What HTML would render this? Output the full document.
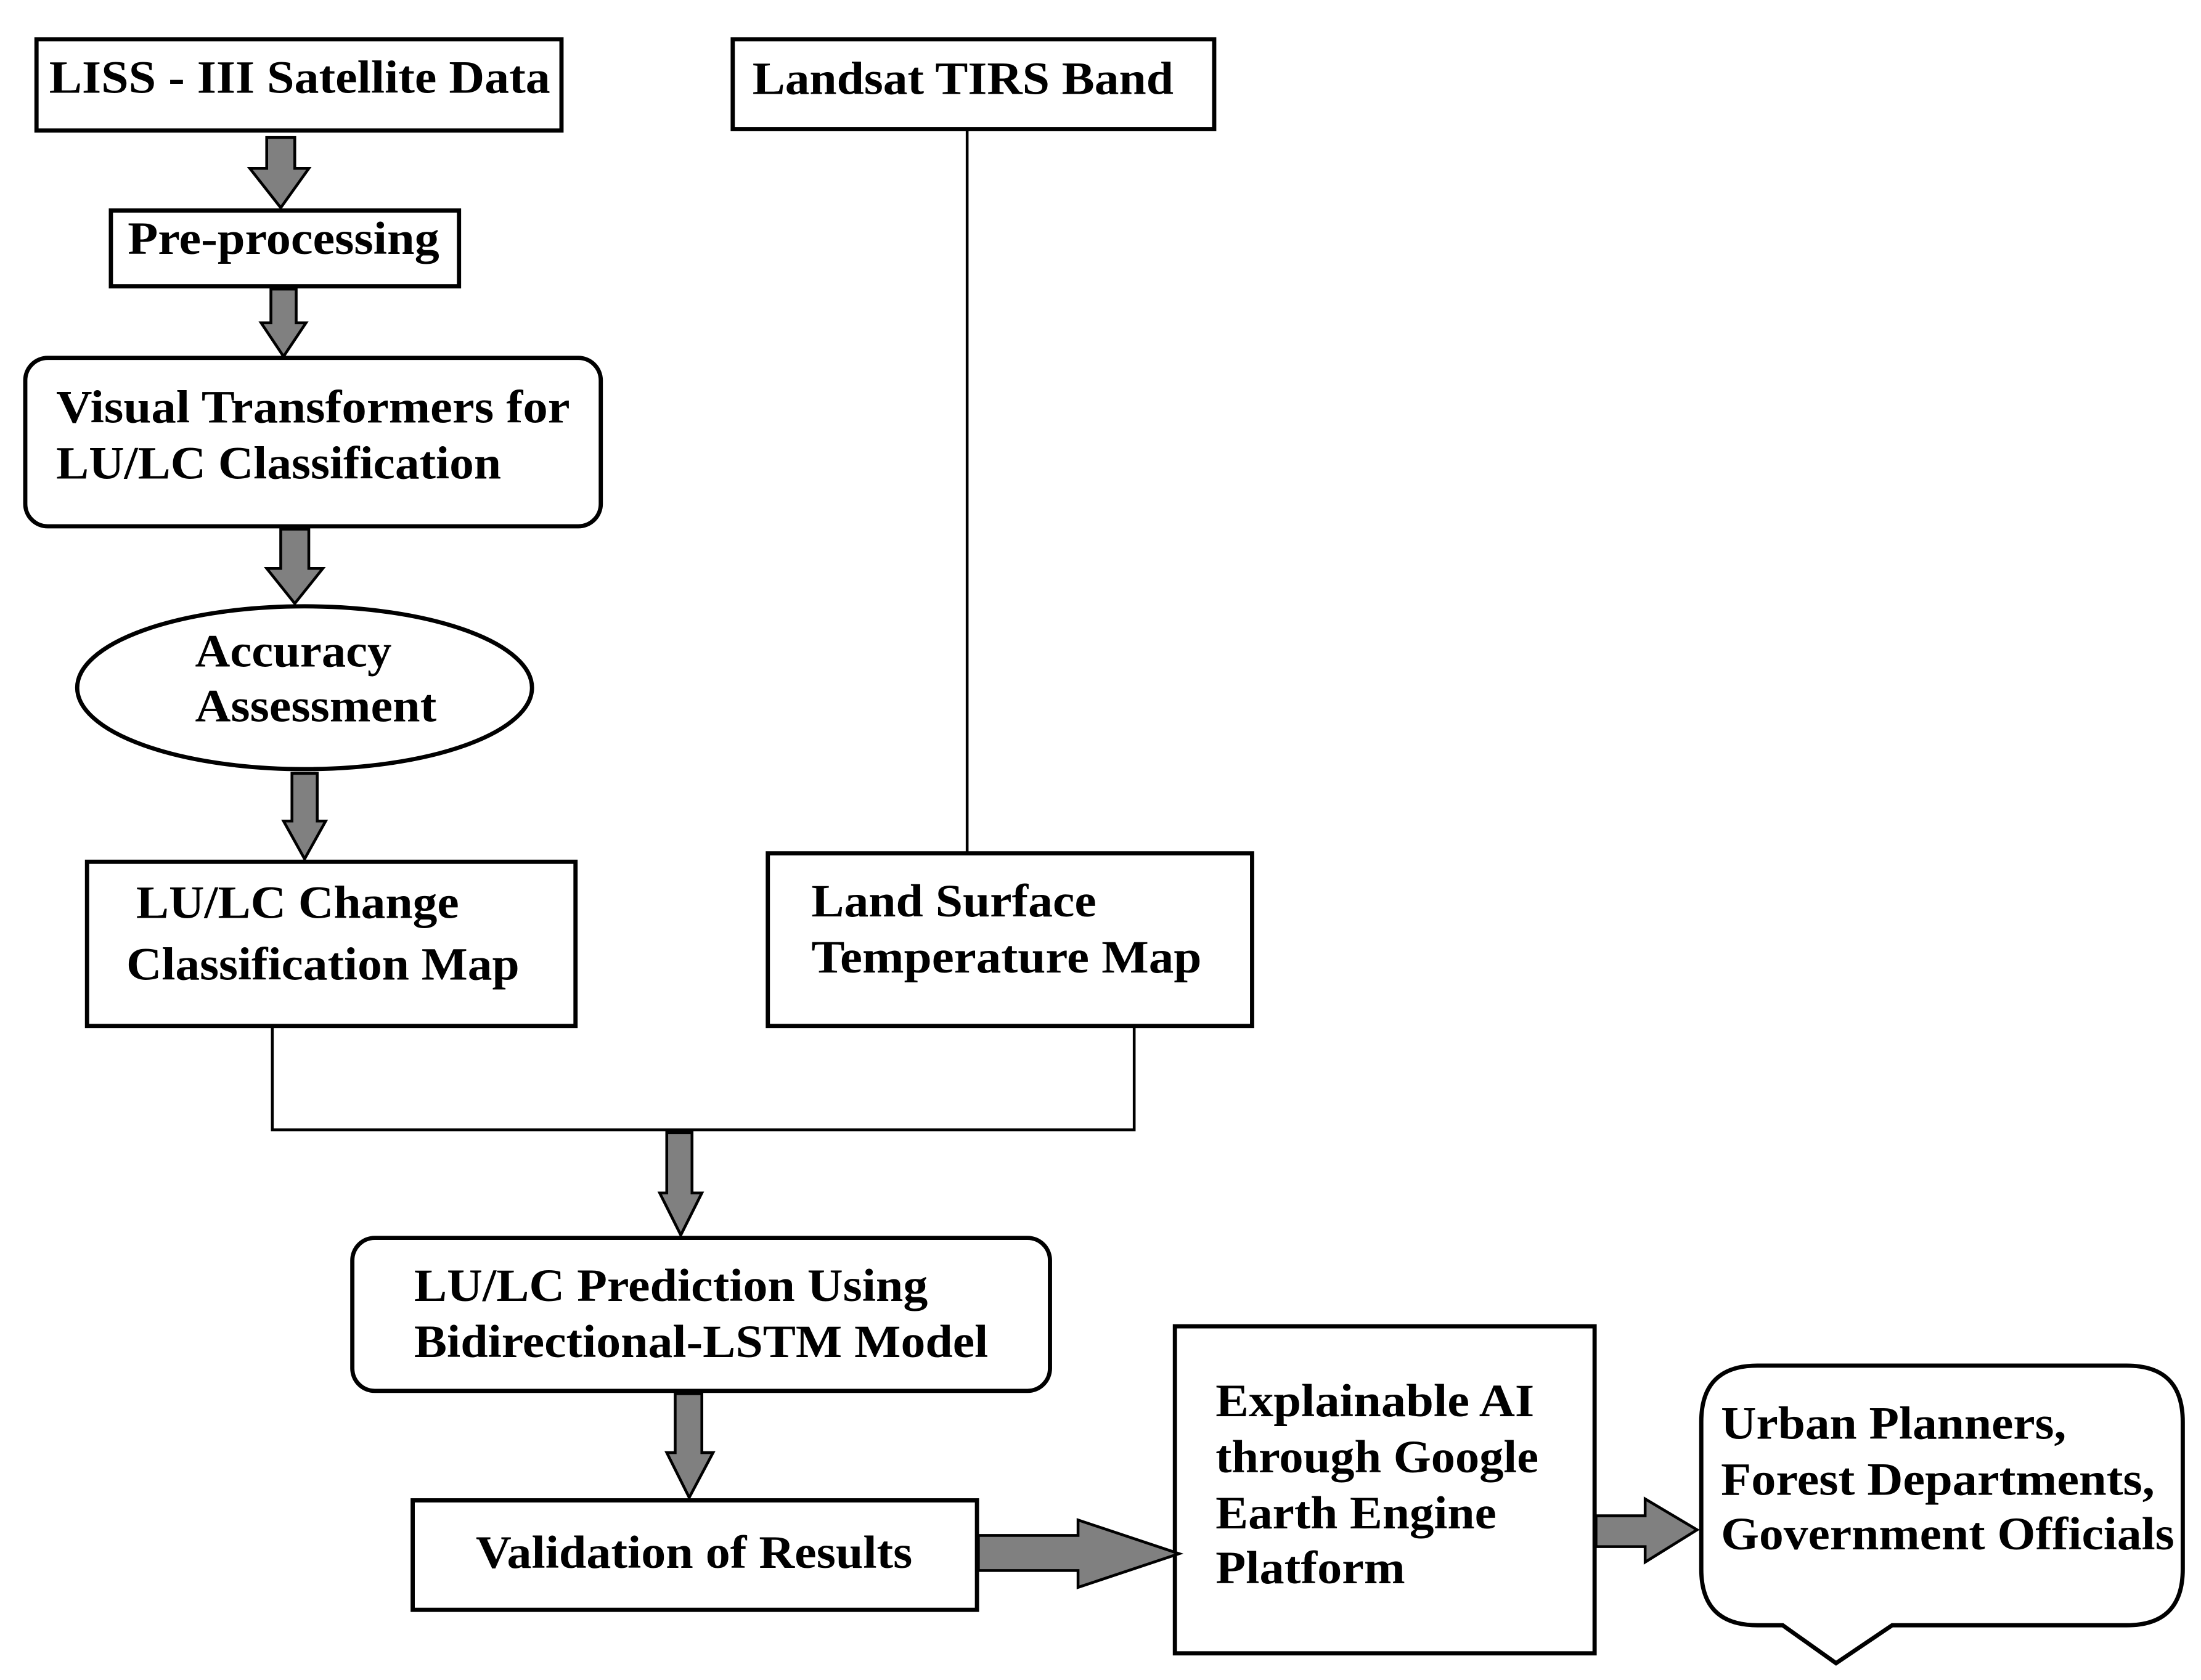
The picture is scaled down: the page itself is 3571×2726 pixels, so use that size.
<!DOCTYPE html>
<html><head><meta charset="utf-8"><style>
html,body{margin:0;padding:0;background:#fff;}
svg{display:block;}
text{font-family:"Liberation Serif",serif;font-weight:bold;font-size:33px;fill:#000;}
</style></head><body>
<svg width="3571" height="2726" viewBox="0 0 1568 1197" preserveAspectRatio="none" xmlns="http://www.w3.org/2000/svg">
<g fill="#fff" stroke="#000" stroke-width="3">
<rect x="26" y="28" width="374" height="65"/>
<rect x="522" y="28" width="343" height="64"/>
<rect x="79" y="150" width="248" height="54"/>
<rect x="18" y="255" width="410" height="120" rx="16"/>
<ellipse cx="217" cy="490" rx="162" ry="58"/>
<rect x="62" y="614" width="348" height="117"/>
<rect x="547" y="608" width="345" height="123"/>
<rect x="251" y="882" width="497" height="109" rx="16"/>
<rect x="294" y="1069" width="402" height="78"/>
<rect x="837" y="945" width="299" height="233"/>
<path d="M1252,973 H1515 Q1555,973 1555,1013 V1118 Q1555,1158 1515,1158 H1348 L1308,1185 L1270,1158 H1252 Q1212,1158 1212,1118 V1013 Q1212,973 1252,973 Z"/>
</g>
<g fill="none" stroke="#000" stroke-width="2">
<line x1="689" y1="92" x2="689" y2="608"/>
<path d="M194,731 V805 H808 V731"/>
</g>
<g fill="#808080" stroke="#000" stroke-width="2" stroke-linejoin="miter">
<path d="M190,98 H210 V120 H220 L200,148 L178,120 H190 Z"/>
<path d="M193,206 H211 V230 H218 L202,254 L186,230 H193 Z"/>
<path d="M200,377 H220 V405 H230 L210,430 L190,405 H200 Z"/>
<path d="M208,551 H226 V585 H232 L217,612 L202,585 H208 Z"/>
<path d="M475,807 H493 V850 H500 L485,880 L470,850 H475 Z"/>
<path d="M481,993 H500 V1035 H508 L491,1067 L475,1035 H481 Z"/>
<path d="M697,1094 H768 V1083 L840,1107 L768,1131 V1119 H697 Z"/>
<path d="M1137,1080 H1172 V1068 L1209,1090 L1172,1113 V1102 H1137 Z"/>
</g>
<text x="35" y="66" textLength="357" lengthAdjust="spacingAndGlyphs">LISS - III Satellite Data</text>
<text x="536" y="67" textLength="300" lengthAdjust="spacingAndGlyphs">Landsat TIRS Band</text>
<text x="91" y="181" textLength="222" lengthAdjust="spacingAndGlyphs">Pre-processing</text>
<text x="40" y="301" textLength="366" lengthAdjust="spacingAndGlyphs">Visual Transformers for</text>
<text x="40" y="341" textLength="317" lengthAdjust="spacingAndGlyphs">LU/LC Classification</text>
<text x="139" y="475" textLength="140" lengthAdjust="spacingAndGlyphs">Accuracy</text>
<text x="139" y="514" textLength="172" lengthAdjust="spacingAndGlyphs">Assessment</text>
<text x="97" y="654" textLength="230" lengthAdjust="spacingAndGlyphs">LU/LC Change</text>
<text x="90" y="698" textLength="280" lengthAdjust="spacingAndGlyphs">Classification Map</text>
<text x="578" y="653" textLength="203" lengthAdjust="spacingAndGlyphs">Land Surface</text>
<text x="578" y="693" textLength="278" lengthAdjust="spacingAndGlyphs">Temperature Map</text>
<text x="295" y="927" textLength="366" lengthAdjust="spacingAndGlyphs">LU/LC Prediction Using</text>
<text x="295" y="967" textLength="409" lengthAdjust="spacingAndGlyphs">Bidirectional-LSTM Model</text>
<text x="339" y="1117" textLength="311" lengthAdjust="spacingAndGlyphs">Validation of Results</text>
<text x="866" y="1009" textLength="227" lengthAdjust="spacingAndGlyphs">Explainable AI</text>
<text x="866" y="1049" textLength="230" lengthAdjust="spacingAndGlyphs">through Google</text>
<text x="866" y="1089" textLength="200" lengthAdjust="spacingAndGlyphs">Earth Engine</text>
<text x="866" y="1128" textLength="135" lengthAdjust="spacingAndGlyphs">Platform</text>
<text x="1226" y="1025" textLength="246" lengthAdjust="spacingAndGlyphs">Urban Planners,</text>
<text x="1226" y="1065" textLength="309" lengthAdjust="spacingAndGlyphs">Forest Departments,</text>
<text x="1226" y="1104" textLength="323" lengthAdjust="spacingAndGlyphs">Government Officials</text>
</svg>
</body></html>
